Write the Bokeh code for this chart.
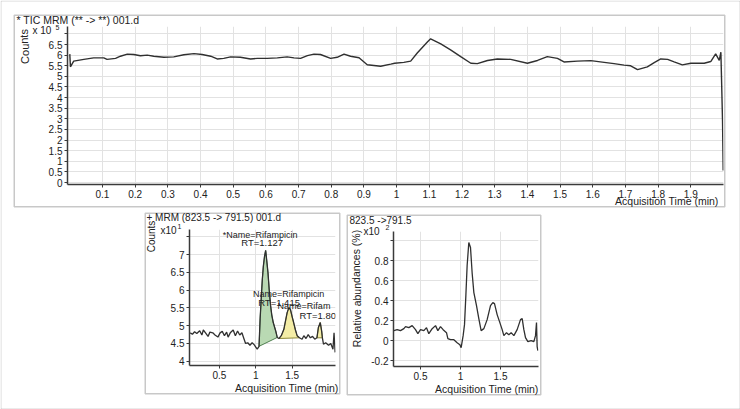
from bokeh.plotting import figure
from bokeh.layouts import column, row
from bokeh.models import Label, BoxAnnotation, FixedTicker, Range1d
from bokeh.embed import file_html
from bokeh.resources import INLINE

# ---------------- data ----------------
# Top panel: TIC MRM, counts x10^5
tic_time = [0.0, 0.002, 0.012, 0.043, 0.073, 0.104, 0.114, 0.14, 0.155, 0.176, 0.196, 0.216,
            0.237, 0.257, 0.288, 0.318, 0.349, 0.38, 0.405, 0.431, 0.451, 0.471, 0.492, 0.522,
            0.553, 0.574, 0.604, 0.635, 0.665, 0.686, 0.706, 0.727, 0.747, 0.767, 0.798, 0.818,
            0.839, 0.859, 0.885, 0.91, 0.951, 0.982, 0.994, 1.022, 1.043, 1.063, 1.094, 1.104,
            1.135, 1.165, 1.196, 1.227, 1.247, 1.278, 1.308, 1.349, 1.40, 1.431, 1.461, 1.492,
            1.512, 1.553, 1.594, 1.635, 1.665, 1.696, 1.716, 1.737, 1.767, 1.788, 1.808, 1.829,
            1.849, 1.874, 1.90, 1.941, 1.961, 1.976, 1.987, 1.992, 1.994, 1.997, 1.999]
tic_counts = [6.05, 5.45, 5.72, 5.80, 5.87, 5.87, 5.80, 5.85, 5.95, 6.05, 6.03, 5.97,
              6.00, 5.95, 5.90, 5.92, 6.02, 6.07, 6.03, 5.95, 5.82, 5.85, 5.92, 5.90,
              5.82, 5.85, 5.85, 5.87, 5.92, 5.87, 5.85, 5.98, 6.05, 6.03, 5.85, 5.90,
              6.05, 5.95, 5.88, 5.55, 5.48, 5.58, 5.62, 5.66, 5.72, 6.10, 6.62, 6.77,
              6.53, 6.25, 5.93, 5.62, 5.60, 5.75, 5.82, 5.80, 5.62, 5.75, 5.93, 5.85,
              5.68, 5.72, 5.74, 5.66, 5.60, 5.53, 5.50, 5.32, 5.45, 5.65, 5.82, 5.80,
              5.68, 5.54, 5.62, 5.62, 5.70, 6.06, 5.75, 6.14, 4.88, 2.92, 0.57]
top_x_ticks = [0.1, 0.2, 0.3, 0.4, 0.5, 0.6, 0.7, 0.8, 0.9, 1.0,
               1.1, 1.2, 1.3, 1.4, 1.5, 1.6, 1.7, 1.8, 1.9]
top_x_labels = ["0.1", "0.2", "0.3", "0.4", "0.5", "0.6", "0.7", "0.8", "0.9", "1",
                "1.1", "1.2", "1.3", "1.4", "1.5", "1.6", "1.7", "1.8", "1.9"]
top_y_ticks = [0, 0.5, 1, 1.5, 2, 2.5, 3, 3.5, 4, 4.5, 5, 5.5, 6, 6.5, 7]
top_y_labels = ["0", "0.5", "1", "1.5", "2", "2.5", "3", "3.5", "4", "4.5",
                "5", "5.5", "6", "6.5", ""]

# Bottom-left panel: MRM (823.5 -> 791.5), counts x10^1
mrm_time = [0.10, 0.13, 0.16, 0.19, 0.23, 0.26, 0.28, 0.31, 0.345, 0.37, 0.41, 0.44,
            0.48, 0.51, 0.54, 0.57, 0.60, 0.62, 0.65, 0.69, 0.72, 0.75, 0.78, 0.81,
            0.84, 0.86, 0.89, 0.92, 0.95, 0.98, 1.00, 1.02, 1.045, 1.06, 1.077, 1.09,
            1.104, 1.12, 1.136, 1.15, 1.168, 1.185, 1.204, 1.22, 1.24, 1.273, 1.295, 1.318,
            1.35, 1.386, 1.41, 1.431, 1.455, 1.477, 1.50, 1.52, 1.545, 1.568, 1.60, 1.636,
            1.66, 1.69, 1.72, 1.75, 1.78, 1.81, 1.84, 1.86, 1.886, 1.905, 1.915, 1.93,
            1.96, 2.00, 2.03, 2.06, 2.075, 2.09]
mrm_counts = [4.80, 4.76, 4.83, 4.78, 4.86, 4.74, 4.88, 4.80, 4.70, 4.82, 4.80, 4.74,
              4.68, 4.80, 4.84, 4.72, 4.82, 4.68, 4.80, 4.88, 4.72, 4.85, 4.74, 4.80,
              4.62, 4.50, 4.52, 4.45, 4.52, 4.46, 4.40, 4.34, 4.42, 5.20, 5.84, 6.30,
              6.67, 6.95, 7.12, 6.85, 6.49, 6.00, 5.56, 5.30, 5.09, 4.86, 4.67, 4.64,
              4.72, 4.90, 5.15, 5.37, 5.51, 5.45, 5.25, 5.09, 4.88, 4.72, 4.66, 4.62,
              4.72, 4.64, 4.75, 4.66, 4.70, 4.62, 4.66, 4.95, 5.09, 4.85, 4.66, 4.48,
              4.52, 4.45, 4.50, 4.34, 4.80, 4.25]
peak_windows = [(1.045, 1.295), (1.318, 1.60), (1.84, 1.915)]
peak_fill = ["#b9d9b3", "#f4eda6", "#f4eda6"]
peak_edge = ["#4f7f4f", "#8f8a3a", "#8f8a3a"]
peak_names = ["*Name=Rifampicin", "Name=Rifampicin", "Name=Rifam"]
peak_rts = ["RT=1.127", "RT=1.415", "RT=1.80"]
bl_x_ticks = [0.5, 1.0, 1.5]
bl_x_labels = ["0.5", "1", "1.5"]
bl_y_ticks = [4, 4.5, 5, 5.5, 6, 6.5, 7, 7.5]
bl_y_labels = ["4", "4.5", "5", "5.5", "6", "6.5", "7", ""]

# Bottom-right panel: relative abundances (%), x10^2
rel_time = [0.167, 0.208, 0.25, 0.292, 0.313, 0.354, 0.396, 0.4375, 0.467, 0.5, 0.542, 0.575,
            0.604, 0.646, 0.6875, 0.717, 0.75, 0.783, 0.825, 0.842, 0.875, 0.917, 0.958, 0.992,
            1.008, 1.033, 1.05, 1.067, 1.083, 1.104, 1.125, 1.146, 1.167, 1.2, 1.229, 1.258,
            1.292, 1.333, 1.375, 1.404, 1.425, 1.458, 1.492, 1.521, 1.542, 1.575, 1.604, 1.633,
            1.667, 1.708, 1.75, 1.771, 1.792, 1.8125, 1.842, 1.883, 1.917, 1.9375, 1.95, 1.958,
            1.967]
rel_abund = [0.10, 0.11, 0.10, 0.12, 0.14, 0.13, 0.15, 0.11, 0.07, 0.11, 0.10, 0.13,
             0.07, 0.12, 0.15, 0.10, 0.14, 0.11, 0.08, 0.02, 0.01, 0.01, -0.02, -0.04,
             -0.07, 0.05, 0.16, 0.45, 0.75, 0.98, 0.93, 0.67, 0.48, 0.35, 0.22, 0.10,
             0.12, 0.21, 0.35, 0.38, 0.37, 0.26, 0.18, 0.11, 0.05, 0.08, 0.06, 0.08,
             0.05, 0.11, 0.21, 0.22, 0.11, 0.03, -0.01, 0.00, -0.01, 0.05, 0.18, -0.06,
             -0.10]
br_x_ticks = [0.5, 1.0, 1.5]
br_x_labels = ["0.5", "1", "1.5"]
br_y_ticks = [-0.2, 0, 0.2, 0.4, 0.6, 0.8, 1.0]
br_y_labels = ["-0.2", "0", "0.2", "0.4", "0.6", "0.8", ""]

# ---------------- styling ----------------
FONT = "Liberation Sans"
TXT = "#222222"
LINE = "#303030"
GRID = "#e2e2e2"
W, H = 740, 409


def panel(box, frame, xr, yr, xt, xl, yt, yl):
    bx0, by0, bx1, by1 = box
    fl, ft, fr, fb = frame
    p = figure(width=bx1 - bx0, height=by1 - by0,
               x_range=Range1d(*xr), y_range=Range1d(*yr),
               output_backend="svg", toolbar_location=None,
               min_border_left=fl - bx0, min_border_right=bx1 - fr,
               min_border_top=ft - by0, min_border_bottom=by1 - fb)
    p.outline_line_color = None
    p.border_fill_color = "white"
    p.background_fill_color = "white"
    for ax, ticks, labels in ((p.xaxis[0], xt, xl), (p.yaxis[0], yt, yl)):
        ax.ticker = FixedTicker(ticks=ticks)
        ax.major_label_overrides = {k: s for k, s in zip(ticks, labels)}
        ax.axis_line_color = "#3a3a3a"
        ax.axis_line_width = 1.5
        ax.major_tick_line_color = "#3a3a3a"
        ax.major_tick_out = 3
        ax.major_tick_in = 0
        ax.minor_tick_line_color = None
        ax.major_label_text_font = FONT
        ax.major_label_text_font_size = "10px"
        ax.major_label_text_color = TXT
        ax.major_label_standoff = 2
    p.xgrid.ticker = FixedTicker(ticks=xt)
    p.ygrid.ticker = FixedTicker(ticks=yt)
    p.grid.grid_line_color = GRID
    p.grid.grid_line_width = 1
    return p


# ---------------- top panel ----------------
TOP_BOX = (13, 14, 725, 207)
top = panel(TOP_BOX, (67, 26, 723, 184), (-0.007, 2.0), (-0.094, 7.35),
            top_x_ticks, top_x_labels, top_y_ticks, top_y_labels)
top.line(tic_time, tic_counts, line_color=LINE, line_width=1.4)

# ---------------- bottom-left panel ----------------
BL_BOX = (144, 212, 340, 394)
bl = panel(BL_BOX, (189, 229, 335, 365), (0.09, 2.095), (3.88, 7.71),
           bl_x_ticks, bl_x_labels, bl_y_ticks, bl_y_labels)
for (t0, t1), fc, ec in zip(peak_windows, peak_fill, peak_edge):
    xs = [t for t in mrm_time if t0 <= t <= t1]
    ys = [c for t, c in zip(mrm_time, mrm_counts) if t0 <= t <= t1]
    bl.patch(xs, ys, fill_color=fc, line_color=ec, line_width=1)
bl.line(mrm_time, mrm_counts, line_color=LINE, line_width=1.3)
name_xy = [(1.06, 7.56), (1.45, 5.90), (1.30, 5.55)]
rt_xy = [(1.087, 7.34), (1.32, 5.66), (1.60, 5.29)]
peak_align = ["center", "center", "left"]
for txt, (x, y), al in zip(peak_names, name_xy, peak_align):
    bl.add_layout(Label(x=x, y=y, text=txt, text_font=FONT, text_font_size="9px",
                        text_color=TXT, text_align=al, text_baseline="middle"))
for txt, (x, y), al in zip(peak_rts, rt_xy, peak_align):
    bl.add_layout(Label(x=x, y=y, text=txt, text_font=FONT, text_font_size="9.5px",
                        text_color=TXT, text_align=al, text_baseline="middle"))

# ---------------- bottom-right panel ----------------
BR_BOX = (346, 214, 541, 395)
br = panel(BR_BOX, (393, 228, 538, 368), (0.1625, 1.975), (-0.258, 1.09),
           br_x_ticks, br_x_labels, br_y_ticks, br_y_labels)
br.line(rel_time, rel_abund, line_color=LINE, line_width=1.3)

# ---------------- overlay: frames and panel texts (window pixel space) ----------------
ov = figure(width=W, height=H, x_range=Range1d(0, W), y_range=Range1d(H, 0),
            x_axis_type=None, y_axis_type=None, output_backend="svg", toolbar_location=None,
            min_border=0, min_border_left=0, min_border_right=0, min_border_top=0,
            min_border_bottom=0)
ov.outline_line_color = None
ov.background_fill_color = None
ov.border_fill_color = None

ov.add_layout(BoxAnnotation(left=0.5, right=W - 0.5, top=0.5, bottom=H - 0.5,
                            fill_color=None, fill_alpha=0, line_color="#7a7a7a", line_width=1))
for bx0, by0, bx1, by1 in (TOP_BOX, BL_BOX, BR_BOX):
    ov.add_layout(BoxAnnotation(left=bx0 + 0.75, right=bx1 - 0.75, top=by0 + 0.75,
                                bottom=by1 - 0.75, fill_color=None, fill_alpha=0,
                                line_color="#4a4a4a", line_width=1.5))

panel_texts = [
    # (x, y, text, size, align, angle)
    (16, 19, "* TIC  MRM (** -> **) 001.d", "10.5px", "left", 0.0),
    (24, 46, "Counts", "11px", "center", 1.5708),
    (32, 30, "x 10", "10px", "left", 0.0),
    (55, 27, "5", "7px", "left", 0.0),
    (718, 200, "Acquisition Time (min)", "10.5px", "right", 0.0),
    (146, 217, "+ MRM (823.5 -> 791.5) 001.d", "10px", "left", 0.0),
    (151, 236, "Counts", "10px", "center", 1.5708),
    (160, 230, "x10", "10px", "left", 0.0),
    (177, 226, "1", "7px", "left", 0.0),
    (338, 387, "Acquisition Time (min)", "10.5px", "right", 0.0),
    (349, 220, "823.5  ->791.5", "10px", "left", 0.0),
    (356, 288, "Relative abundances (%)", "10.5px", "center", 1.5708),
    (363, 231, "x10", "10px", "left", 0.0),
    (385, 227, "2", "7px", "left", 0.0),
    (538, 388, "Acquisition Time (min)", "10.5px", "right", 0.0),
]
for x, y, txt, size, al, ang in panel_texts:
    ov.add_layout(Label(x=x, y=y, text=txt, text_font=FONT, text_font_size=size,
                        text_color=TXT, text_align=al, text_baseline="middle", angle=ang))

# ---------------- layout ----------------
top.margin = (14, 0, 0, 13)
bl.margin = (5, 0, 0, 144)
br.margin = (7, 0, 0, 6)
main = column(top, row(bl, br))
ov.margin = (-395, 0, 0, 0)
layout = column(main, ov)

open("out.html", "w").write(file_html(layout, INLINE))
